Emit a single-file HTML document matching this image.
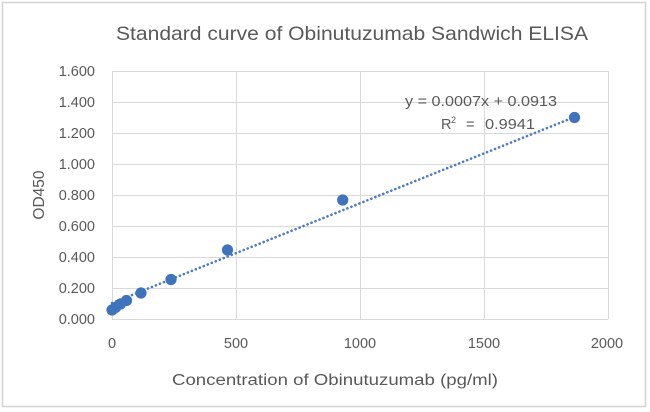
<!DOCTYPE html>
<html><head><meta charset="utf-8"><style>
html,body{margin:0;padding:0;background:#fff;}
svg{display:block;}
text{font-family:"Liberation Sans",sans-serif;fill:#595959;}
</style></head><body>
<svg width="650" height="412" viewBox="0 0 650 412" xmlns="http://www.w3.org/2000/svg">
<rect x="0" y="0" width="650" height="412" fill="#fff"/>
<rect x="2.5" y="2.5" width="643" height="404" fill="#fff" stroke="#d4d4d4" stroke-width="1.5"/>
<text x="352" y="40" font-size="19.5" text-anchor="middle" textLength="472" lengthAdjust="spacingAndGlyphs">Standard curve of Obinutuzumab Sandwich ELISA</text>
<g stroke="#d9d9d9" stroke-width="1">
<line x1="112" y1="71.5" x2="608" y2="71.5"/>
<line x1="112" y1="102.5" x2="608" y2="102.5"/>
<line x1="112" y1="133.5" x2="608" y2="133.5"/>
<line x1="112" y1="164.5" x2="608" y2="164.5"/>
<line x1="112" y1="195.5" x2="608" y2="195.5"/>
<line x1="112" y1="226.5" x2="608" y2="226.5"/>
<line x1="112" y1="257.5" x2="608" y2="257.5"/>
<line x1="112" y1="288.5" x2="608" y2="288.5"/>
<line x1="112" y1="319.5" x2="608" y2="319.5"/>
<line x1="112.5" y1="71" x2="112.5" y2="319"/>
<line x1="236.5" y1="71" x2="236.5" y2="319"/>
<line x1="360.5" y1="71" x2="360.5" y2="319"/>
<line x1="484.5" y1="71" x2="484.5" y2="319"/>
<line x1="608.5" y1="71" x2="608.5" y2="319"/>
</g>
<g font-size="14.5" text-anchor="end">
<text x="95" y="76">1.600</text>
<text x="95" y="107">1.400</text>
<text x="95" y="138">1.200</text>
<text x="95" y="169">1.000</text>
<text x="95" y="200">0.800</text>
<text x="95" y="231">0.600</text>
<text x="95" y="262">0.400</text>
<text x="95" y="293">0.200</text>
<text x="95" y="324">0.000</text>
</g>
<g font-size="14.5" text-anchor="middle">
<text x="112" y="348">0</text>
<text x="236" y="348">500</text>
<text x="360" y="348">1000</text>
<text x="484" y="348">1500</text>
<text x="607" y="348">2000</text>
</g>
<text x="335" y="385" font-size="15.5" text-anchor="middle" textLength="326" lengthAdjust="spacingAndGlyphs">Concentration of Obinutuzumab (pg/ml)</text>
<text transform="translate(44,195) rotate(-90)" font-size="15.5" text-anchor="middle">OD450</text>
<line x1="112" y1="303" x2="577" y2="116" stroke="#4a7cc2" stroke-width="2.6" stroke-linecap="round" stroke-dasharray="0.1 4.2"/>
<g fill="#3f74bd">
<circle cx="112" cy="310" r="5.6"/>
<circle cx="115.5" cy="307.5" r="5.6"/>
<circle cx="120.5" cy="304" r="5.6"/>
<circle cx="126.5" cy="300.5" r="5.6"/>
<circle cx="141" cy="293" r="5.6"/>
<circle cx="171" cy="279.5" r="5.6"/>
<circle cx="227.5" cy="250" r="5.6"/>
<circle cx="342.7" cy="200" r="5.6"/>
<circle cx="574.5" cy="117.5" r="5.6"/>
</g>
<text x="557" y="106" font-size="14.5" text-anchor="end" textLength="152" lengthAdjust="spacingAndGlyphs">y = 0.0007x + 0.0913</text>
<text x="441" y="129" font-size="14.5">R</text>
<text x="451" y="123" font-size="9">2</text>
<text x="466" y="129" font-size="14.5">=</text>
<text x="535" y="129" font-size="14.5" text-anchor="end" textLength="50" lengthAdjust="spacingAndGlyphs">0.9941</text>
</svg>
</body></html>
